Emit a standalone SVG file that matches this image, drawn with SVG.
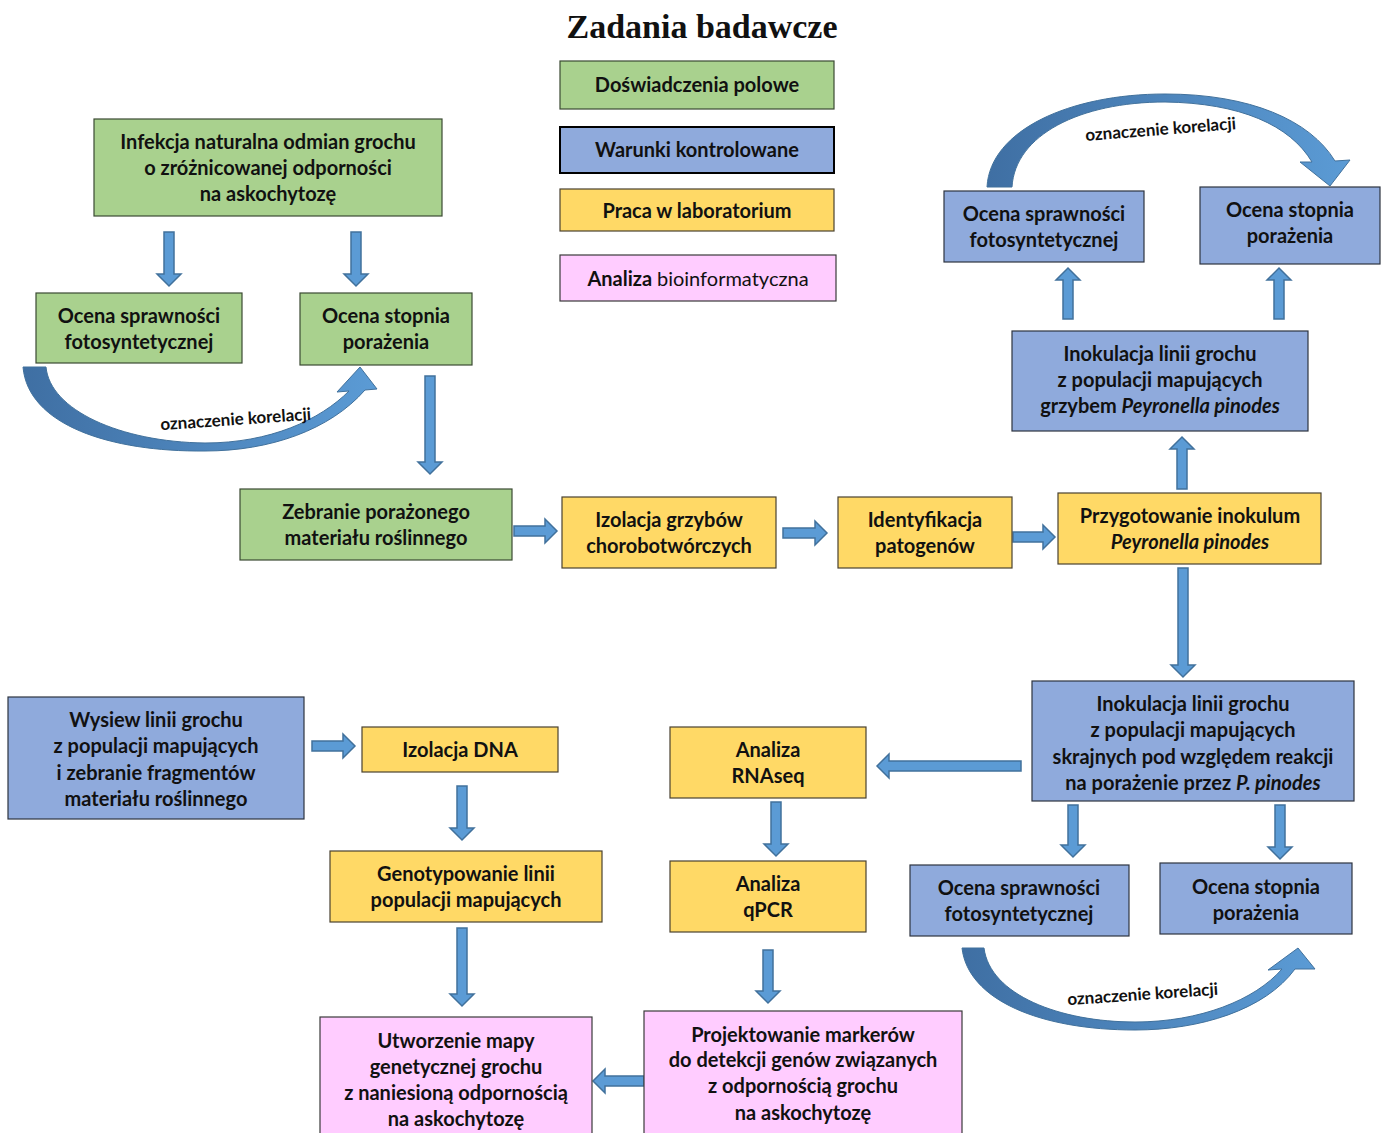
<svg xmlns="http://www.w3.org/2000/svg" width="1386" height="1133" viewBox="0 0 1386 1133">
<style>
.g{fill:#A9D18E;stroke:#3B4A33;stroke-width:1.2}
.b{fill:#8FAADC;stroke:#2E3440;stroke-width:1.2}
.y{fill:#FFD966;stroke:#4A4230;stroke-width:1.2}
.p{fill:#FFCCFF;stroke:#3A3A3A;stroke-width:1.2}
.t{font-family:Lato,"Open Sans","Liberation Sans",sans-serif;font-weight:bold;font-size:20px;fill:#111;text-anchor:middle}
.t .r{font-weight:normal}
.ba{fill:#5B9BD5;stroke:#41719C;stroke-width:1.5}
.k{font-family:Lato,"Open Sans","Liberation Sans",sans-serif;font-weight:bold;font-size:17px;fill:#111;text-anchor:middle}
.title{font-family:"Liberation Serif","DejaVu Serif",serif;font-weight:bold;font-size:34px;fill:#111;text-anchor:middle}
</style>
<defs>
<linearGradient id="cg" x1="0" y1="0" x2="1" y2="0">
<stop offset="0" stop-color="#3F6FA3"/>
<stop offset="1" stop-color="#5B9BD5"/>
</linearGradient>
</defs>

<text class="title" x="702" y="38">Zadania badawcze</text>

<g id="legend">
<g id="leg-polowe"><rect class="g" x="560" y="61" width="274" height="48"/><text class="t" x="697" y="92">Doświadczenia polowe</text></g>
<g id="leg-kontrolowane"><rect class="b" x="560" y="127" width="274" height="46" style="stroke:#000;stroke-width:2"/><text class="t" x="697" y="157">Warunki kontrolowane</text></g>
<g id="leg-lab"><rect class="y" x="560" y="189" width="274" height="42"/><text class="t" x="697" y="218">Praca w laboratorium</text></g>
<g id="leg-bio"><rect class="p" x="560" y="255" width="276" height="46"/><text class="t" x="698" y="286">Analiza <tspan class="r">bioinformatyczna</tspan></text></g>
</g>

<g id="connectors">
<path class="ba" d="M164,232 L174,232 L174,274 L181,274 L169,286 L157,274 L164,274 Z"/>
<path class="ba" d="M351,232 L361,232 L361,274 L368,274 L356,286 L344,274 L351,274 Z"/>
<path class="ba" d="M425,376 L435,376 L435,462 L442,462 L430,474 L418,462 L425,462 Z"/>
<path class="ba" d="M514,526 L514,536 L545,536 L545,543 L557,531 L545,519 L545,526 Z"/>
<path class="ba" d="M783,528 L783,538 L815,538 L815,545 L827,533 L815,521 L815,528 Z"/>
<path class="ba" d="M1013,532 L1013,542 L1043,542 L1043,549 L1055,537 L1043,525 L1043,532 Z"/>
<path class="ba" d="M1177,489 L1187,489 L1187,449 L1194,449 L1182,437 L1170,449 L1177,449 Z"/>
<path class="ba" d="M1063,319 L1073,319 L1073,280 L1080,280 L1068,268 L1056,280 L1063,280 Z"/>
<path class="ba" d="M1274,319 L1284,319 L1284,280 L1291,280 L1279,268 L1267,280 L1274,280 Z"/>
<path class="ba" d="M1178,568 L1188,568 L1188,665 L1195,665 L1183,677 L1171,665 L1178,665 Z"/>
<path class="ba" d="M1021,761 L1021,771 L889,771 L889,778 L877,766 L889,754 L889,761 Z"/>
<path class="ba" d="M1068,805 L1078,805 L1078,845 L1085,845 L1073,857 L1061,845 L1068,845 Z"/>
<path class="ba" d="M1275,805 L1285,805 L1285,847 L1292,847 L1280,859 L1268,847 L1275,847 Z"/>
<path class="ba" d="M771,802 L781,802 L781,844 L788,844 L776,856 L764,844 L771,844 Z"/>
<path class="ba" d="M763,950 L773,950 L773,991 L780,991 L768,1003 L756,991 L763,991 Z"/>
<path class="ba" d="M644,1076 L644,1086 L605,1086 L605,1093 L593,1081 L605,1069 L605,1076 Z"/>
<path class="ba" d="M312,741 L312,751 L343,751 L343,758 L355,746 L343,734 L343,741 Z"/>
<path class="ba" d="M457,786 L467,786 L467,828 L474,828 L462,840 L450,828 L457,828 Z"/>
<path class="ba" d="M457,928 L467,928 L467,994 L474,994 L462,1006 L450,994 L457,994 Z"/>

<path fill="url(#cg)" stroke="#41719C" stroke-width="1" d="M23,367 L46,367 C50,410 120,442 205,443 C270,443 320,420 349,391 L337,392 L360,367 L377,389 L365,390 C330,430 270,451 205,451 C110,452 28,425 23,367 Z"/>
<text class="k" transform="translate(236,425) rotate(-4)">oznaczenie korelacji</text>

<path fill="url(#cg)" stroke="#41719C" stroke-width="1" d="M987,187 C990,130 1070,94 1165,94 C1250,94 1310,120 1335,161 L1350,160 L1330,186 L1300,162 L1312,162 C1290,125 1240,103 1165,102 C1080,102 1015,135 1012,187 Z"/>
<text class="k" transform="translate(1161,135) rotate(-4.5)">oznaczenie korelacji</text>

<path fill="url(#cg)" stroke="#41719C" stroke-width="1" d="M962,948 L984,948 C990,995 1060,1022 1135,1022 C1200,1022 1255,1000 1282,969 L1268,970 L1298,948 L1315,969 L1295,969 C1265,1010 1200,1030 1135,1030 C1040,1030 968,1000 962,948 Z"/>
<text class="k" transform="translate(1143,1000) rotate(-4)">oznaczenie korelacji</text>
</g>

<g id="n-infekcja"><rect class="g" x="94" y="119" width="348" height="97"/>
<text class="t" x="268" y="149">Infekcja naturalna odmian grochu</text>
<text class="t" x="268" y="175">o zróżnicowanej odporności</text>
<text class="t" x="268" y="201">na askochytozę</text></g>

<g id="n-ocena-spr-1"><rect class="g" x="36" y="293" width="206" height="70"/>
<text class="t" x="139" y="323">Ocena sprawności</text>
<text class="t" x="139" y="349">fotosyntetycznej</text></g>

<g id="n-ocena-st-1"><rect class="g" x="300" y="293" width="172" height="72"/>
<text class="t" x="386" y="323">Ocena stopnia</text>
<text class="t" x="386" y="349">porażenia</text></g>

<g id="n-zebranie"><rect class="g" x="240" y="489" width="272" height="71"/>
<text class="t" x="376" y="519">Zebranie porażonego</text>
<text class="t" x="376" y="545">materiału roślinnego</text></g>

<g id="n-izolacja-grz"><rect class="y" x="562" y="497" width="214" height="71"/>
<text class="t" x="669" y="527">Izolacja grzybów</text>
<text class="t" x="669" y="553">chorobotwórczych</text></g>

<g id="n-identyfikacja"><rect class="y" x="838" y="497" width="174" height="71"/>
<text class="t" x="925" y="527">Identyfikacja</text>
<text class="t" x="925" y="553">patogenów</text></g>

<g id="n-przygotowanie"><rect class="y" x="1058" y="493" width="263" height="71"/>
<text class="t" x="1190" y="523">Przygotowanie inokulum</text>
<text class="t" x="1190" y="549" font-style="italic">Peyronella pinodes</text></g>

<g id="n-inokulacja-1"><rect class="b" x="1012" y="331" width="296" height="100"/>
<text class="t" x="1160" y="361">Inokulacja linii grochu</text>
<text class="t" x="1160" y="387">z populacji mapujących</text>
<text class="t" x="1160" y="413">grzybem <tspan font-style="italic">Peyronella pinodes</tspan></text></g>

<g id="n-ocena-spr-2"><rect class="b" x="944" y="191" width="200" height="71"/>
<text class="t" x="1044" y="221">Ocena sprawności</text>
<text class="t" x="1044" y="247">fotosyntetycznej</text></g>

<g id="n-ocena-st-2"><rect class="b" x="1200" y="187" width="180" height="77"/>
<text class="t" x="1290" y="217">Ocena stopnia</text>
<text class="t" x="1290" y="243">porażenia</text></g>

<g id="n-inokulacja-2"><rect class="b" x="1032" y="681" width="322" height="120"/>
<text class="t" x="1193" y="711">Inokulacja linii grochu</text>
<text class="t" x="1193" y="737">z populacji mapujących</text>
<text class="t" x="1193" y="764">skrajnych pod względem reakcji</text>
<text class="t" x="1193" y="790">na porażenie przez <tspan font-style="italic">P. pinodes</tspan></text></g>

<g id="n-ocena-spr-3"><rect class="b" x="910" y="865" width="219" height="71"/>
<text class="t" x="1019" y="895">Ocena sprawności</text>
<text class="t" x="1019" y="921">fotosyntetycznej</text></g>

<g id="n-ocena-st-3"><rect class="b" x="1160" y="863" width="192" height="71"/>
<text class="t" x="1256" y="894">Ocena stopnia</text>
<text class="t" x="1256" y="920">porażenia</text></g>

<g id="n-rnaseq"><rect class="y" x="670" y="727" width="196" height="71"/>
<text class="t" x="768" y="757">Analiza</text>
<text class="t" x="768" y="783">RNAseq</text></g>

<g id="n-qpcr"><rect class="y" x="670" y="861" width="196" height="71"/>
<text class="t" x="768" y="891">Analiza</text>
<text class="t" x="768" y="917">qPCR</text></g>

<g id="n-projektowanie"><rect class="p" x="644" y="1011" width="318" height="130"/>
<text class="t" x="803" y="1042">Projektowanie markerów</text>
<text class="t" x="803" y="1067">do detekcji genów związanych</text>
<text class="t" x="803" y="1093">z odpornością grochu</text>
<text class="t" x="803" y="1120">na askochytozę</text></g>

<g id="n-mapa"><rect class="p" x="320" y="1017" width="272" height="124"/>
<text class="t" x="456" y="1048">Utworzenie mapy</text>
<text class="t" x="456" y="1074">genetycznej grochu</text>
<text class="t" x="456" y="1100">z naniesioną odpornością</text>
<text class="t" x="456" y="1126">na askochytozę</text></g>

<g id="n-wysiew"><rect class="b" x="8" y="697" width="296" height="122"/>
<text class="t" x="156" y="727">Wysiew linii grochu</text>
<text class="t" x="156" y="753">z populacji mapujących</text>
<text class="t" x="156" y="780">i zebranie fragmentów</text>
<text class="t" x="156" y="806">materiału roślinnego</text></g>

<g id="n-izolacja-dna"><rect class="y" x="362" y="727" width="196" height="45"/>
<text class="t" x="460" y="757">Izolacja DNA</text></g>

<g id="n-genotypowanie"><rect class="y" x="330" y="851" width="272" height="71"/>
<text class="t" x="466" y="881">Genotypowanie linii</text>
<text class="t" x="466" y="907">populacji mapujących</text></g>
</svg>
